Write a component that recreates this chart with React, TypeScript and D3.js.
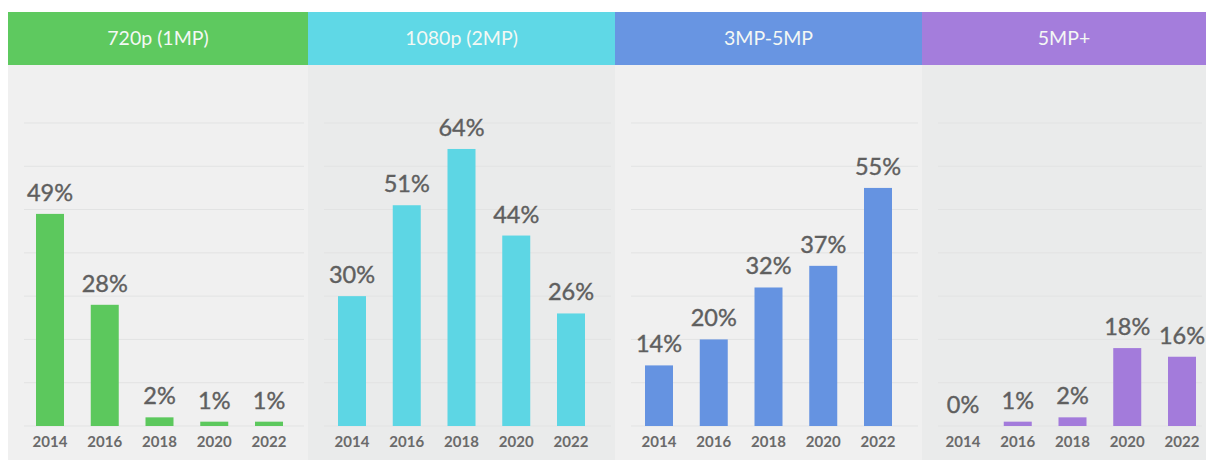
import React from "react";
import * as d3 from "d3";

const years = ["2014", "2016", "2018", "2020", "2022"];
const categories = ["720p (1MP)", "1080p (2MP)", "3MP-5MP", "5MP+"];
const values720p = [49, 28, 2, 1, 1];
const values1080p = [30, 51, 64, 44, 26];
const values3to5 = [14, 20, 32, 37, 55];
const values5plus = [0, 1, 2, 18, 16];
const gridTicks = [0, 10, 20, 30, 40, 50, 60, 70];

const seriesList = [values720p, values1080p, values3to5, values5plus];
const headerColors = ["#5ec95f", "#5fd8e6", "#6895e2", "#a47ddc"];
const barColors = ["#5cc85d", "#5dd6e4", "#6593e1", "#a37bdb"];
const panelBg = ["#f0f0f0", "#eaebeb", "#f0f0f0", "#eaebeb"];
const panelEdges = [8, 308, 615, 922, 1206];

const W = 1206;
const H = 463;
const headerTop = 12;
const headerBottom = 65;
const panelBottom = 460;

export default function App() {
  const y = d3.scaleLinear().domain([0, 70]).range([426, 123]);
  const barW = 28;
  const font = "Lato, 'Open Sans', sans-serif";

  return (
    <svg width={W} height={H} style={{ position: "absolute", left: 0, top: 0, background: "#fff" }}>
      {categories.map((cat, i) => {
        const x0 = panelEdges[i];
        const x1 = panelEdges[i + 1];
        const start = i === 0 ? x0 + 42 : i === 3 ? x0 + 41 : x0 + 44;
        const x = d3.scalePoint<string>().domain(years).range([start, start + 219]);
        const vals = seriesList[i];
        return (
          <g key={cat}>
            <rect x={x0} y={headerBottom} width={x1 - x0} height={panelBottom - headerBottom} fill={panelBg[i]} />
            <rect x={x0} y={headerTop} width={x1 - x0} height={headerBottom - headerTop} fill={headerColors[i]} />
            <text
              x={(x0 + x1) / 2}
              y={(headerTop + headerBottom) / 2 + 6}
              textAnchor="middle"
              fill="#f4f8f4"
              fontFamily={font}
              fontSize={19.5}
            >
              {cat}
            </text>
            {gridTicks.map((t) => (
              <line
                key={t}
                x1={x0 + 16}
                x2={x1 - 4}
                y1={y(t)}
                y2={y(t)}
                stroke="#e2e3e3"
                strokeWidth={1}
              />
            ))}
            {years.map((yr, j) => {
              const cx = x(yr)!;
              const v = vals[j];
              const top = y(v);
              return (
                <g key={yr}>
                  <rect x={cx - barW / 2} y={top} width={barW} height={y(0) - top} fill={barColors[i]} />
                  <text
                    x={cx}
                    y={top - 13}
                    textAnchor="middle"
                    fill="#5f5f5f"
                    stroke="#5f5f5f"
                    strokeWidth={0.4}
                    fontFamily={font}
                    fontSize={23.5}
                  >
                    {v + "%"}
                  </text>
                  <text
                    x={cx}
                    y={447}
                    textAnchor="middle"
                    fill="#6a6a6a"
                    fontFamily={font}
                    fontWeight={700}
                    fontSize={15}
                  >
                    {yr}
                  </text>
                </g>
              );
            })}
          </g>
        );
      })}
    </svg>
  );
}
